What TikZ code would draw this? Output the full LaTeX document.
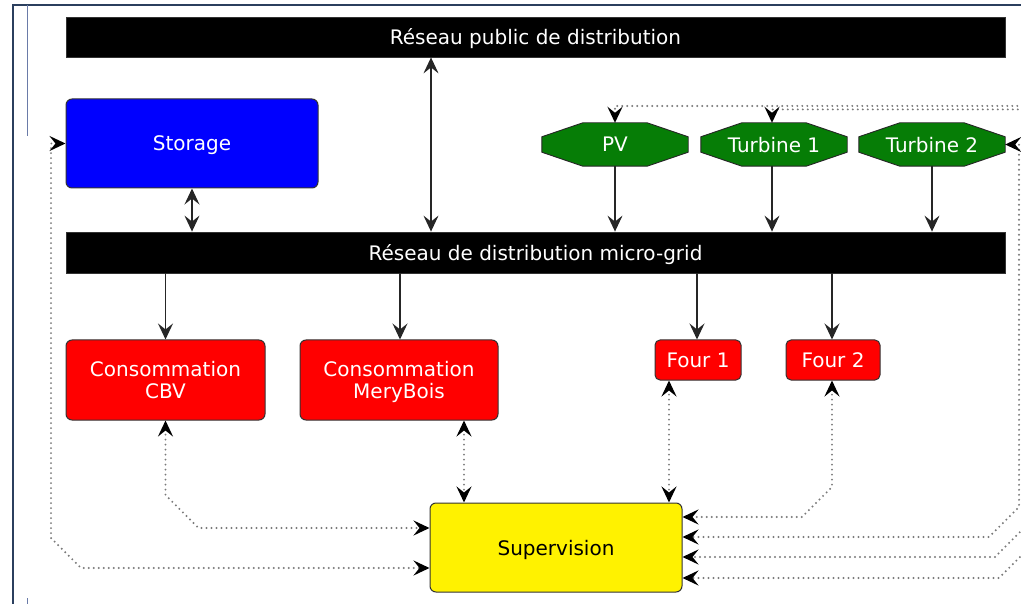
\documentclass[tikz,border=0pt]{standalone}
\usepackage{fontspec}
\setmainfont{DejaVu Sans}
\usetikzlibrary{arrows.meta,backgrounds}

\definecolor{framenavy}{HTML}{2B3F5E}
\definecolor{marginline}{HTML}{6A7BA8}
\definecolor{boxedge}{HTML}{333333}
\definecolor{dotgray}{HTML}{7A7A7A}
\definecolor{pvgreen}{HTML}{067D06}

\tikzset{
  ctltip/.tip={Stealth[length=16pt, width=15pt, inset=6pt, black]},
  pwrtip/.tip={Stealth[length=16pt, width=15pt, inset=6pt]},
  lbl/.style={font=\fontsize{20}{23}\selectfont, align=center, inner sep=0pt, text depth=0pt},
  bar/.style={lbl, fill=black, draw=black!80, line width=0.8pt, text=white,
              minimum width=939pt, minimum height=40pt},
  box/.style={lbl, rounded corners=6pt, draw=boxedge, line width=1pt, text=white},
  source/.style={lbl, text=white, minimum width=146pt, minimum height=43pt},
  octshape/.style={fill=pvgreen, draw=black!85, line width=0.9pt},
  power/.style={draw=black!85, line width=1.4pt, -pwrtip},
  power2/.style={draw=black!85, line width=1.4pt, pwrtip-pwrtip},
  ctrl/.style={draw=dotgray, line width=2.2pt, line cap=round,
               dash pattern=on 0pt off 5pt, ctltip-ctltip},
}

% chamfered outline drawn around a text node
\newcommand\octagonfor[1]{%
  \path[octshape]
    ([xshift=41pt]#1.north west) -- ([xshift=-41pt]#1.north east)
    -- ([yshift=-14pt]#1.north east) -- ([yshift=14pt]#1.south east)
    -- ([xshift=-41pt]#1.south east) -- ([xshift=41pt]#1.south west)
    -- ([yshift=14pt]#1.south west) -- ([yshift=-14pt]#1.north west) -- cycle;}

\begin{document}
\begin{tikzpicture}[x=1pt, y=-1pt]
\useasboundingbox (0,0) rectangle (1021,604);

% page frame and margin marks
\draw[framenavy, line width=2pt] (12.5,604) -- (12.5,5.5) -- (1021,5.5);
\draw[marginline, line width=0.8pt] (27,5.5) -- (27,136);
\draw[marginline, line width=0.8pt] (27,598) -- (27,604);

% networks
\node[bar] (pub)  at (535.5,37)   {Réseau public de distribution};
\node[bar, minimum height=41pt] (grid) at (535.5,252.5) {Réseau de distribution micro-grid};

% storage and production
\node[box, fill=blue, minimum width=252pt, minimum height=89pt] (sto) at (192,143.5) {Storage};
\node[source] (pv) at (615,144.5) {PV};
\node[source] (t1) at (774,144.5) {Turbine 1};
\node[source] (t2) at (932,144.5) {Turbine 2};
\begin{pgfonlayer}{background}
  \octagonfor{pv}
  \octagonfor{t1}
  \octagonfor{t2}
\end{pgfonlayer}

% loads
\node[box, fill=red, minimum width=199pt, minimum height=80pt] (cbv) at (165.5,380) {Consommation\\[-1pt]CBV};
\node[box, fill=red, minimum width=198pt, minimum height=80pt] (mb)  at (399,380)   {Consommation\\[-1pt]MeryBois};
\node[box, fill=red, rounded corners=5pt, minimum width=86pt, minimum height=40pt] (f1) at (698,360) {Four 1};
\node[box, fill=red, rounded corners=5pt, minimum width=94pt, minimum height=40pt] (f2) at (833,360) {Four 2};

% supervision
\node[box, fill=yellow, text=black, minimum width=252pt, minimum height=89pt] (sup) at (556,547.5) {Supervision};

% power flows
\coordinate (link) at (431,0);
\draw[power2] (pub.south -| link) -- (grid.north -| link);
\draw[power2] (sto.south) -- (sto.south |- grid.north);
\draw[power] (pv.south) -- (pv.south |- grid.north);
\draw[power] ([xshift=-2pt]t1.south) -- ([xshift=-2pt]t1.south |- grid.north);
\draw[power] (t2.south) -- (t2.south |- grid.north);
\draw[power] (grid.south -| cbv.north) -- (cbv.north);
\draw[power] ([xshift=1pt]grid.south -| mb.north) -- ([xshift=1pt]mb.north);
\draw[power] ([xshift=-1pt]grid.south -| f1.north) -- ([xshift=-1pt]f1.north);
\draw[power] ([xshift=-1pt]grid.south -| f2.north) -- ([xshift=-1pt]f2.north);

% supervision links
\begin{scope}
\clip (0,0) rectangle (1021,604);
\draw[ctrl] (cbv.south) -- (165.5,495) -- (198.5,528) -- (sup.west |- 0,528);
\draw[ctrl] (mb.south -| 464,0) -- (sup.north -| 464,0);
\draw[ctrl] (sto.west) -- (51,143.5) -- (51,538) -- (81,568) -- (sup.west |- 0,568);
\draw[ctrl] (f1.south -| 669,0) -- (sup.north -| 669,0);
\draw[ctrl] ([xshift=-1pt]f2.south) -- (832,487) -- (802,517) -- (sup.east |- 0,517);
\draw[ctrl] (t2.east) -- (1019,144.5) -- (1019,507) -- (989,537) -- (sup.east |- 0,537);
\draw[ctrl] ([xshift=-2pt]t1.north) -- (772,109.5) -- (1027,109.5) -- (1027,525) -- (995,557) -- (sup.east |- 0,557);
\draw[ctrl] (pv.north) -- (615,106) -- (1035,106) -- (1035,542) -- (999,578) -- (sup.east |- 0,578);
\end{scope}
\end{tikzpicture}
\end{document}
